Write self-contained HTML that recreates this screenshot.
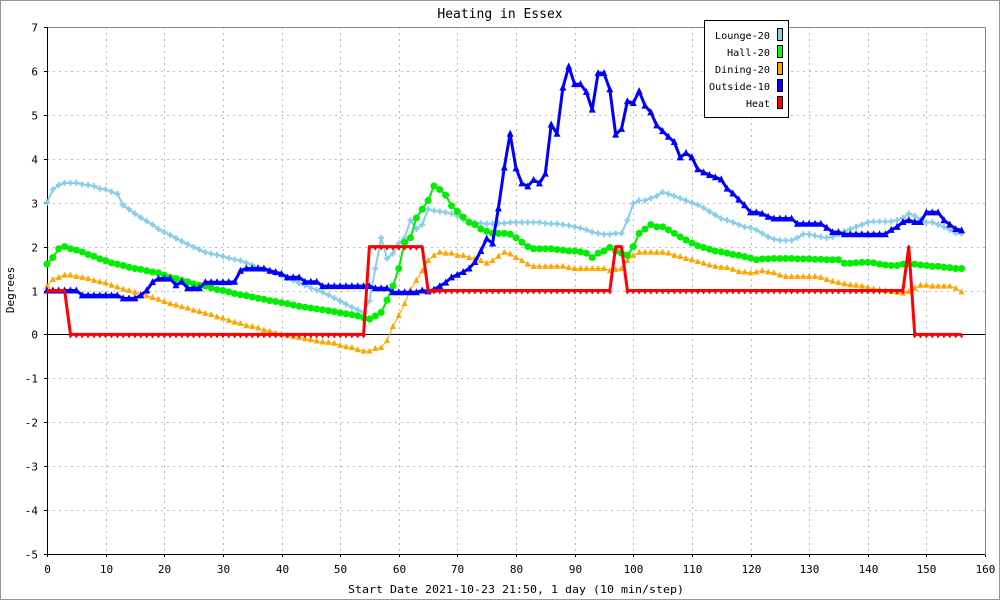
<!DOCTYPE html>
<html><head><meta charset="utf-8"><style>
html,body{margin:0;padding:0;background:#fff}
svg{display:block;font-family:"DejaVu Sans Mono","Liberation Mono",monospace}
</style></head><body>
<svg id="chart" width="1000" height="600" viewBox="0 0 1000 600">
<rect x="0.5" y="0.5" width="999" height="599" fill="#fff" stroke="#999"/>
<text x="500" y="18" text-anchor="middle" font-size="13">Heating in Essex</text>
<g id="grid"></g>
<g id="axes"></g>
<g id="series"></g>
<text x="14" y="290" transform="rotate(-90 14 290)" text-anchor="middle" font-size="11">Degrees</text>
<text x="348" y="593" font-size="11" textLength="336" lengthAdjust="spacingAndGlyphs">Start Date 2021-10-23 21:50, 1 day (10 min/step)</text>
<g font-size="10">
<rect x="704.5" y="20.5" width="84" height="97" fill="#fff" stroke="#000"/>
<g><text x="715" y="39" textLength="55" lengthAdjust="spacingAndGlyphs">Lounge-20</text><rect x="777.5" y="28.5" width="5" height="12" fill="#87ceeb" stroke="#000"/></g>
<g><text x="727" y="56" textLength="43" lengthAdjust="spacingAndGlyphs">Hall-20</text><rect x="777.5" y="45.5" width="5" height="12" fill="#00ff00" stroke="#000"/></g>
<g><text x="715" y="73" textLength="55" lengthAdjust="spacingAndGlyphs">Dining-20</text><rect x="777.5" y="62.5" width="5" height="12" fill="#ffa500" stroke="#000"/></g>
<g><text x="709" y="90" textLength="61" lengthAdjust="spacingAndGlyphs">Outside-10</text><rect x="777.5" y="79.5" width="5" height="12" fill="#0000ff" stroke="#000"/></g>
<g><text x="746" y="107" textLength="24" lengthAdjust="spacingAndGlyphs">Heat</text><rect x="777.5" y="96.5" width="5" height="12" fill="#ff0000" stroke="#000"/></g>
</g>
</svg>
<script>
const xTicks = [0,10,20,30,40,50,60,70,80,90,100,110,120,130,140,150,160];
const yTicks = [7,6,5,4,3,2,1,0,-1,-2,-3,-4,-5];
const lounge = [3.0,3.3,3.4,3.45,3.45,3.45,3.42,3.4,3.38,3.32,3.3,3.25,3.2,
2.94,2.85,2.75,2.66,2.58,2.5,2.4,2.33,2.26,2.19,2.12,2.05,1.99,1.93,1.87,1.84,1.81,1.78,1.74,1.71,1.68,1.63,1.58,1.53,1.48,1.44,1.39,1.34,1.28,1.23,1.17,1.12,1.06,1.01,0.96,0.9,0.83,0.76,0.69,0.62,0.56,0.5,
0.77,1.5,2.2,1.73,1.84,2.07,2.2,2.6,2.4,2.5,2.85,
2.82,2.8,2.78,2.75,2.7,2.62,2.58,2.55,2.53,2.52,2.52,2.53,2.53,2.55,2.55,2.55,2.55,2.55,2.55,2.53,2.52,2.52,2.5,2.48,2.45,2.42,2.38,2.33,2.3,2.28,2.28,2.3,2.3,
2.6,2.98,3.05,3.05,3.1,3.15,3.24,3.2,3.15,3.1,3.05,3.0,2.95,2.88,2.8,2.72,2.64,2.6,2.55,2.5,2.45,2.43,2.38,2.3,2.22,2.17,2.14,2.14,2.14,2.2,2.28,2.28,2.25,2.22,2.2,2.22,2.28,2.35,2.4,2.45,2.5,2.55,2.57,2.57,2.57,2.57,2.6,2.65,2.75,2.7,2.62,2.55,2.55,2.5,2.45,2.38,2.3,2.3];
const hall = [1.6,1.75,1.95,2.0,1.95,1.92,1.88,1.82,1.78,1.72,1.68,1.63,1.6,1.57,1.53,1.5,1.48,1.45,1.42,1.4,1.35,1.3,1.27,1.23,1.2,1.15,1.12,1.1,1.06,1.02,1.0,0.97,0.93,0.9,0.88,0.85,0.82,0.8,0.77,0.75,0.72,0.7,0.67,0.64,0.62,0.6,0.58,0.56,0.54,0.52,0.49,0.47,0.45,0.42,0.38,
0.35,0.42,0.5,0.78,1.1,1.5,2.1,2.2,2.65,2.85,3.05,3.38,3.3,3.17,2.93,2.8,2.67,2.55,2.5,2.4,2.35,2.3,2.3,2.3,2.28,2.2,2.1,2.0,1.95,1.95,1.95,1.95,1.93,1.92,1.9,1.9,1.88,1.85,1.75,1.85,1.9,1.98,1.9,1.85,1.8,2.0,2.3,2.4,2.5,2.45,2.45,2.38,
2.3,2.22,2.15,2.08,2.02,1.98,1.94,1.9,1.88,1.85,1.82,1.8,1.77,1.74,1.7,1.72,1.72,1.73,1.73,1.73,1.73,1.72,1.72,1.72,1.71,1.71,1.7,1.7,1.7,1.62,1.62,1.63,1.64,1.64,1.63,1.6,1.58,1.57,1.57,1.6,1.6,1.6,1.58,1.57,1.55,1.55,1.53,1.52,1.5,1.5];
const dining = [1.1,1.25,1.3,1.35,1.35,1.32,1.3,1.27,1.23,1.2,1.17,1.12,1.08,1.03,1.0,0.96,0.92,0.88,0.84,0.8,0.75,
0.7,0.67,0.63,0.6,0.55,0.52,0.48,0.45,0.4,0.37,0.32,0.28,0.25,0.2,0.18,0.15,0.1,0.07,0.03,0.0,-0.02,-0.05,-0.07,-0.1,-0.12,-0.15,-0.17,-0.18,-0.2,-0.25,-0.28,-0.3,-0.35,-0.38,-0.38,
-0.32,-0.3,-0.14,0.18,0.43,0.7,1.02,1.23,1.45,1.68,1.8,1.87,1.85,1.85,1.8,1.8,1.75,1.72,1.68,1.62,1.68,1.78,1.87,1.83,1.75,1.68,1.6,1.55,1.55,1.55,1.55,1.55,1.55,1.52,1.5,1.5,1.5,1.5,1.5,1.5,1.45,1.48,1.5,1.68,1.8,1.87,1.87,1.87,1.87,1.87,1.85,
1.8,1.77,1.73,1.7,1.66,1.62,1.58,1.55,1.53,1.52,1.48,1.43,1.42,1.4,1.42,1.45,1.42,1.4,1.35,1.32,1.32,1.32,1.32,1.32,1.32,1.3,1.25,1.21,1.18,1.15,1.13,1.12,1.1,1.07,1.04,1.02,1.0,0.98,0.96,0.94,0.98,1.05,1.12,1.12,1.1,1.1,1.1,1.1,1.05,0.97];
const outside = [1.0,1.0,1.0,1.0,1.0,1.0,0.89,0.89,0.89,0.89,0.89,0.89,0.89,0.82,0.82,0.82,0.89,1.0,1.19,1.27,1.27,1.27,1.12,1.2,1.05,1.05,1.05,1.19,1.19,1.19,1.19,1.19,1.2,1.45,1.5,1.5,1.5,1.5,1.45,1.42,1.38,1.3,1.3,1.3,1.2,1.2,1.2,1.1,1.1,1.1,1.1,1.1,1.1,1.1,1.1,1.1,
1.05,1.05,1.05,0.96,0.96,0.96,0.96,0.96,1.0,0.98,1.02,1.1,1.18,1.3,1.36,1.42,1.5,1.65,1.9,2.18,2.07,2.87,3.8,4.57,3.78,3.44,3.37,3.52,3.44,3.66,4.78,4.57,5.62,6.1,5.7,5.7,5.52,5.12,5.95,5.95,5.58,4.55,4.68,5.31,5.27,5.54,5.21,5.06,4.76,4.63,4.5,4.38,4.03,4.13,4.03,3.76,3.69,3.63,3.58,3.53,3.32,3.21,3.07,2.94,2.78,2.78,2.75,2.68,
2.64,2.64,2.64,2.64,2.52,2.52,2.52,2.52,2.52,2.43,2.33,2.33,2.28,2.28,2.28,2.28,2.28,2.28,2.28,2.28,
2.38,2.45,2.56,2.6,2.56,2.56,2.78,2.78,2.78,2.6,2.5,2.4,2.37];
const heatRuns = [[1,4],[0,51],[2,10],[1,32],[2,2],[1,48],[2,1],[0,9]];
const heat = [];
heatRuns.forEach(r => { for (let k = 0; k < r[1]; k++) heat.push(r[0]); });

const X0 = 47, X1 = 985, Y0 = 27, Y1 = 554;
const xMin = 0, xMax = 160, yMin = -5, yMax = 7;
const sx = v => X0 + (v - xMin) / (xMax - xMin) * (X1 - X0);
const sy = v => Y1 - (v - yMin) / (yMax - yMin) * (Y1 - Y0);
const NS = "http://www.w3.org/2000/svg";
function mk(tag, attrs, parent) {
  const e = document.createElementNS(NS, tag);
  for (const k in attrs) e.setAttribute(k, attrs[k]);
  parent.appendChild(e);
  return e;
}
const grid = document.getElementById('grid');
const axes = document.getElementById('axes');
const series = document.getElementById('series');

xTicks.forEach(t => {
  const x = Math.round(sx(t)) + 0.5;
  if (t > 0 && t < 160) {
    const l = mk('line', {x1:x, x2:x, y1:Y0, y2:Y1, stroke:'#bbb', 'stroke-dasharray':'2,4'}, grid);
    
    
  }
  const tk = mk('line', {x1:x, x2:x, y1:Y1, y2:Y1+3, stroke:'#000'}, axes);
  
  
  const tx = mk('text', {x:x, y:Y1+19, 'text-anchor':'middle', 'font-size':11}, axes);
  tx.textContent = t;
  
  
});
yTicks.forEach(t => {
  const y = Math.round(sy(t)) + 0.5;
  if (t !== 0 && t !== 7 && t !== -5) {
    const l = mk('line', {x1:X0, x2:X1, y1:y, y2:y, stroke:'#bbb', 'stroke-dasharray':'2,4'}, grid);
    
    
  }
  const tk = mk('line', {x1:X0-3, x2:X0, y1:y, y2:y, stroke:'#000'}, axes);
  
  
  const tx = mk('text', {x:X0-9, y:y+4, 'text-anchor':'end', 'font-size':11}, axes);
  tx.textContent = t;
  
  
});
const frame = mk('rect', {x:X0+0.5, y:Y0+0.5, width:X1-X0, height:Y1-Y0, fill:'none', stroke:'#888'}, axes);


const zl = mk('line', {x1:X0, x2:X1, y1:Math.round(sy(0))+0.5, y2:Math.round(sy(0))+0.5, stroke:'#000'}, axes);


const ya = mk('line', {x1:X0+0.5, x2:X0+0.5, y1:Y0, y2:Y1, stroke:'#000'}, axes);


const xa = mk('line', {x1:X0, x2:X1, y1:Y1+0.5, y2:Y1+0.5, stroke:'#000'}, axes);



function drawSeries(vals, name, color, width, marker, dash) {
  const g = mk('g', {}, series);
  
  
  const pts = vals.map((v, i) => sx(i).toFixed(1) + ',' + sy(v).toFixed(1)).join(' ');
  const pl = mk('polyline', {points:pts, fill:'none', stroke:color, 'stroke-width':width, 'stroke-linejoin':'round'}, g);
  if (dash) pl.setAttribute('stroke-dasharray', dash);
  
  
  vals.forEach((v, i) => {
    const x = sx(i), y = sy(v);
    let m;
    if (marker === 'circle') m = mk('circle', {cx:x, cy:y, r:3.5, fill:color}, g);
    else if (marker === 'tri') m = mk('path', {d:`M${x-3.5},${y+3} L${x+3.5},${y+3} L${x},${y-4} Z`, fill:color}, g);
    else if (marker === 'tri-small') m = mk('path', {d:`M${x-3},${y+2.5} L${x+3},${y+2.5} L${x},${y-3.5} Z`, fill:color}, g);
    else if (marker === 'cross') m = mk('path', {d:`M${x-3},${y} L${x+3},${y} M${x},${y-3} L${x},${y+3}`, stroke:color, 'stroke-width':2}, g);
    else if (marker === 'tick') m = mk('path', {d:`M${x-2},${y+1} L${x+2},${y+1} L${x},${y+4} Z`, fill:color}, g);
    
    
  });
}
drawSeries(dining, 'dining', '#ffa500', 1, 'tri-small');
drawSeries(lounge, 'lounge', '#87ceeb', 2, 'cross');
drawSeries(hall, 'hall', '#00ee00', 2, 'circle');
drawSeries(outside, 'outside', '#0000ff', 3, 'tri');
drawSeries(heat, 'heat', '#ff0000', 3, 'tick');
</script>
</body></html>
